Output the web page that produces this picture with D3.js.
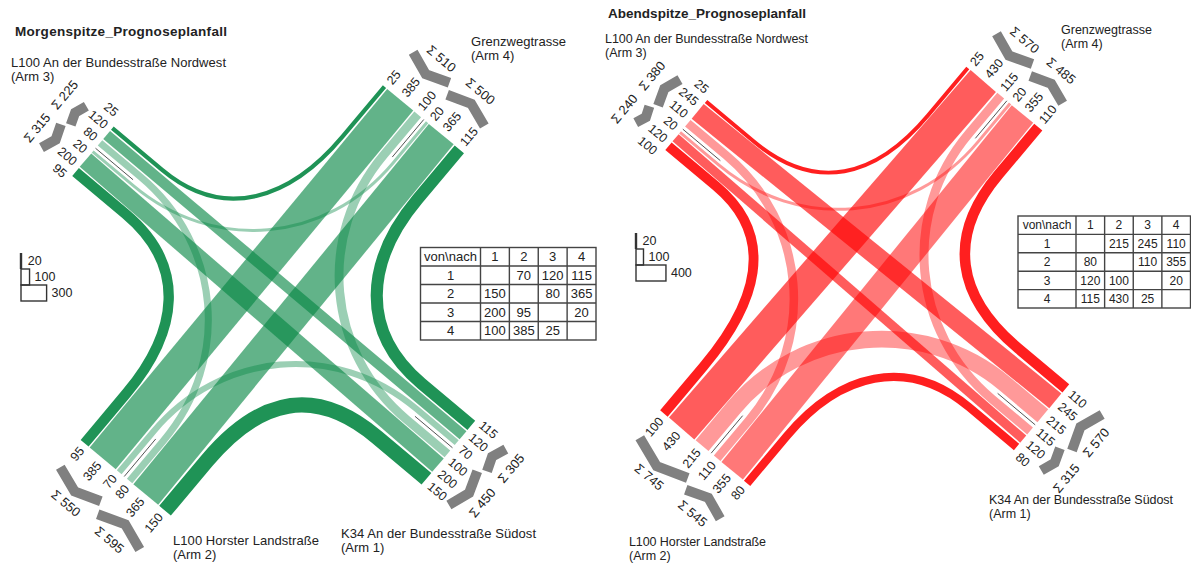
<!DOCTYPE html>
<html>
<head>
<meta charset="utf-8">
<script src="https://cdn.jsdelivr.net/npm/d3@7"></script>
<style>
  html, body { margin: 0; padding: 0; background: #fff; }
  text { font-family: "Liberation Sans", Arial, sans-serif; fill: #222; }
</style>
</head>
<body>
<svg id="chart" width="1191" height="563"></svg>
<script>
// Strombelastung von Arm (Zeile) nach Arm (Spalte), 0 = kein Strom
const arms = [1, 2, 3, 4];
const morningFlows = [
    [0, 70, 120, 115],
    [150, 0, 80, 365],
    [200, 95, 0, 20],
    [100, 385, 25, 0]
];
const eveningFlows = [
    [0, 215, 245, 110],
    [80, 0, 110, 355],
    [120, 100, 0, 20],
    [115, 430, 25, 0]
];
const morningLegend = [20, 100, 300];
const eveningLegend = [20, 100, 400];
const morningTitle = 'Morgenspitze_Prognoseplanfall';
const eveningTitle = 'Abendspitze_Prognoseplanfall';
const armNames = [
    'K34 An der Bundesstraße Südost',
    'L100 Horster Landstraße',
    'L100 An der Bundesstraße Nordwest',
    'Grenzwegtrasse'
];
const tableHeader = 'von\\nach';

const svg = d3.select('#chart');

// Form der Abbiegestroeme (Abstand vom Knotenmittelpunkt)
const rightTurn = { lead: 168, ctrl: 87 };
const leftTurn = { lead: 180, ctrl: 75 };
const centerGap = 3.5;
const laneGap = 1.5;
const labelGap = 16;

function drawJunction(flows, legend, title, cfg) {
    const g = svg.append('g');
    const w = d3.scaleLinear().domain([0, 300]).range([0, cfg.unit * 300]);
    const rad = d => (cfg.angle + d * 90) * Math.PI / 180;

    // Punkt auf Arm k (0..3): a = Abstand vom Zentrum, l = seitlicher Versatz
    function pt(k, a, l) {
        const ux = Math.cos(rad(k)), uy = Math.sin(rad(k));
        return [cfg.cx + a * ux + l * uy, cfg.cy + a * uy - l * ux];
    }

    // Spuren je Arm: aussen liegt der Rechtsabbieger, innen der Linksabbieger
    const lanes = arms.map((_, k) => {
        const out = [], inn = [];
        let lo = centerGap, li = centerGap;
        [1, 2, 3].forEach(step => {
            const to = (k + step) % 4, from = (k - step + 4) % 4;
            const vo = flows[k][to], vi = flows[from][k];
            out.push({ to, value: vo, lat: lo + w(vo) / 2 });
            lo += w(vo) + laneGap;
            inn.push({ from, value: vi, lat: -(li + w(vi) / 2) });
            li += w(vi) + laneGap;
        });
        return { out, inn, outEnd: lo - laneGap, inEnd: li - laneGap };
    });

    // Stroeme
    const bands = [];
    lanes.forEach((lane, k) => {
        lane.out.forEach((o, i) => {
            const target = lanes[o.to].inn.find(n => n.from === k);
            // Rechtsabbieger sind aussen etwas breiter gezeichnet
            const shift = i === 2 ? 1 : 0;
            bands.push({ k, to: o.to, type: i, value: o.value, lo: o.lat + shift, li: target.lat - shift });
        });
    });
    const bandPath = d => {
        const p = d3.path();
        const R = cfg.radius;
        const start = pt(d.k, R, d.lo), end = pt(d.to, R, d.li);
        p.moveTo(...start);
        if (d.type !== 1) {
            const t = d.type === 0 ? leftTurn : rightTurn;
            p.lineTo(...pt(d.k, t.lead, d.lo));
            p.bezierCurveTo(...pt(d.k, t.ctrl, d.lo), ...pt(d.to, t.ctrl, d.li), ...pt(d.to, t.lead, d.li));
        }
        p.lineTo(...end);
        return p.toString();
    };
    const bandAlpha = d => {
        if (d.type === 0) return 0.4;
        if (d.type === 2) return 1;
        return cfg.paleStraight && d.k === cfg.paleStraight[0] && d.to === cfg.paleStraight[1] ? 0.53 : cfg.straightAlpha;
    };
    const bandWidth = d => {
        if (d.type === 2) return w(d.value) + 2;
        if (d.type === 0) return Math.max(w(d.value), 3);
        return w(d.value);
    };
    g.append('g').selectAll('path').data(bands).join('path')
        .attr('d', bandPath)
        .attr('fill', 'none')
        .attr('stroke', d => d.type === 2 ? cfg.color : cfg.flowColor)
        .attr('stroke-opacity', bandAlpha)
        .attr('stroke-width', bandWidth);

    // Mittellinie an den Armenden
    g.append('g').selectAll('line').data(arms).join('line')
        .attr('x1', (_, k) => pt(k, cfg.radius, 0)[0])
        .attr('y1', (_, k) => pt(k, cfg.radius, 0)[1])
        .attr('x2', (_, k) => pt(k, cfg.radius - 49, 0)[0])
        .attr('y2', (_, k) => pt(k, cfg.radius - 49, 0)[1])
        .attr('stroke', '#555')
        .attr('stroke-width', 1);

    // Zahlen an den Spuren, zu enge Beschriftungen werden auseinandergeschoben
    lanes.forEach((lane, k) => {
        const items = [...lane.out, ...lane.inn].sort((a, b) => a.lat - b.lat)
            .map(d => ({ value: d.value, pos: d.lat }));
        for (let n = 0; n < 60; n++) {
            for (let i = 1; i < items.length; i++) {
                const gap = items[i].pos - items[i - 1].pos;
                if (gap < labelGap) {
                    items[i].pos += (labelGap - gap) / 2;
                    items[i - 1].pos -= (labelGap - gap) / 2;
                }
            }
        }
        const rot = k % 2 === 0 ? cfg.angle : cfg.angle - 90;
        g.append('g').selectAll('text').data(items).join('text')
            .attr('transform', d => {
                const p = pt(k, cfg.radius + 6, d.pos);
                return `translate(${p[0]},${p[1]}) rotate(${rot})`;
            })
            .attr('text-anchor', k === 0 || k === 3 ? 'start' : 'end')
            .attr('dy', '0.35em')
            .attr('font-size', 12.5)
            .text(d => d.value);

        // Summenpfeile
        const arrow = d3.line();
        const outSpan = lane.outEnd, inSpan = lane.inEnd;
        const outDepth = outSpan * 0.17, inDepth = inSpan * 0.17;
        const R = cfg.radius;
        g.append('path')
            .attr('d', arrow([pt(k, R + 36 + outDepth, outSpan), pt(k, R + 36, (outSpan + 4) / 2), pt(k, R + 36 + outDepth, 4)]))
            .attr('fill', 'none').attr('stroke', '#808080').attr('stroke-width', 10);
        g.append('path')
            .attr('d', arrow([pt(k, R + 34, -2), pt(k, R + 34 + inDepth, -(inSpan + 2) / 2), pt(k, R + 34, -inSpan)]))
            .attr('fill', 'none').attr('stroke', '#808080').attr('stroke-width', 10);

        const sumRot = k % 2 === 0 ? cfg.angle - 90 : cfg.angle;
        const sums = [
            { v: d3.sum(lane.out, d => d.value), l: Math.max(outSpan / 2, 22) },
            { v: d3.sum(lane.inn, d => d.value), l: -Math.max(inSpan / 2, 21) }
        ];
        g.append('g').selectAll('text').data(sums).join('text')
            .attr('transform', d => {
                const p = pt(k, R + 58, d.l);
                return `translate(${p[0]},${p[1]}) rotate(${sumRot})`;
            })
            .attr('text-anchor', 'middle')
            .attr('dy', '0.35em')
            .attr('font-size', 13)
            .text(d => 'Σ ' + d.v);
    });

    // Titel und Armbezeichnungen
    g.append('text').attr('x', cfg.title[0]).attr('y', cfg.title[1])
        .attr('font-size', 13.5).attr('font-weight', 'bold')
        .attr('textLength', cfg.title[2]).text(title);
    armNames.forEach((name, i) => {
        const t = g.append('text').attr('font-size', cfg.nameSize);
        t.append('tspan').attr('x', cfg.names[i][0]).attr('y', cfg.names[i][1])
            .attr('textLength', cfg.names[i][2]).text(name);
        t.append('tspan').attr('x', cfg.names[i][0]).attr('y', cfg.names[i][1] + 14).text(`(Arm ${arms[i]})`);
    });

    // Massstab
    let ly = cfg.legend[1];
    const lx = cfg.legend[0];
    legend.forEach((v, i) => {
        const h = 16;
        const lw = w(v) * cfg.legendFit;
        if (i === 0) {
            g.append('rect').attr('x', lx - 1.2).attr('y', ly).attr('width', 2.4).attr('height', h).attr('fill', '#333');
        } else {
            g.append('rect').attr('x', lx).attr('y', ly).attr('width', lw).attr('height', h)
                .attr('fill', 'none').attr('stroke', '#333').attr('stroke-width', 1.4);
        }
        g.append('text').attr('x', lx + lw + 5).attr('y', ly + 12).attr('font-size', 12.5).text(v);
        ly += h;
    });

    // Tabelle
    const tb = cfg.table;
    const colX = d3.scaleBand().domain(arms).range([tb.x0 + tb.first, tb.x1]);
    const rowY = d3.scaleBand().domain([0, ...arms]).range([tb.y0, tb.y1]);
    const tg = g.append('g');
    tg.append('rect').attr('x', tb.x0).attr('y', tb.y0).attr('width', tb.x1 - tb.x0).attr('height', tb.y1 - tb.y0)
        .attr('fill', 'none').attr('stroke', '#444').attr('stroke-width', 1.4);
    tg.selectAll('line.v').data(arms).join('line').attr('class', 'v')
        .attr('x1', d => colX(d)).attr('x2', d => colX(d)).attr('y1', tb.y0).attr('y2', tb.y1)
        .attr('stroke', '#444').attr('stroke-width', 1.4);
    tg.selectAll('line.h').data(arms).join('line').attr('class', 'h')
        .attr('y1', d => rowY(d)).attr('y2', d => rowY(d)).attr('x1', tb.x0).attr('x2', tb.x1)
        .attr('stroke', '#444').attr('stroke-width', 1.4);
    const cell = (x, y, txt) => tg.append('text').attr('x', x).attr('y', y + rowY.bandwidth() / 2)
        .attr('dy', '0.35em').attr('text-anchor', 'middle').attr('font-size', cfg.tableSize).text(txt);
    cell((tb.x0 + tb.x0 + tb.first) / 2, rowY(0), tableHeader);
    arms.forEach((a, i) => {
        cell(colX(a) + colX.bandwidth() / 2, rowY(0), a);
        cell((tb.x0 + tb.x0 + tb.first) / 2, rowY(a), a);
        arms.forEach((b, j) => {
            if (flows[i][j]) cell(colX(b) + colX.bandwidth() / 2, rowY(a), flows[i][j]);
        });
    });
}

drawJunction(morningFlows, morningLegend, morningTitle, {
    cx: 274, cy: 298, radius: 233, angle: 40, unit: 0.088, color: '#1f9356',
    flowColor: '#068744', straightAlpha: 0.63, legendFit: 0.97,
    title: [15, 36, 212],
    nameSize: 13, tableSize: 13,
    names: [[341, 538, 195], [173, 545, 146], [11, 67, 215], [471, 46, 95]],
    legend: [21, 253],
    table: { x0: 420.5, x1: 596, y0: 247.5, y1: 340, first: 60 }
});
drawJunction(eveningFlows, eveningLegend, eveningTitle, {
    cx: 859, cy: 277, radius: 230, angle: 40, unit: 0.078, color: '#ff1f1f',
    flowColor: '#ff0000', straightAlpha: 0.64, legendFit: 0.96,
    paleStraight: [1, 3],
    title: [608, 18, 198],
    nameSize: 12.5, tableSize: 12,
    names: [[989, 504, 184], [629, 546, 137], [605, 43, 203], [1061, 34, 91]],
    legend: [636, 233],
    table: { x0: 1018, x1: 1190.5, y0: 216, y1: 308, first: 58 }
});
</script>
</body>
</html>
